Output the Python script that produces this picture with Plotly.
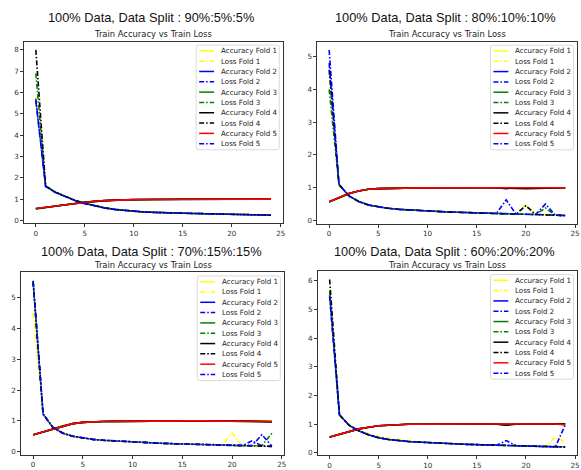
import plotly.graph_objects as go

W, H = 581, 470

epochs = list(range(25))

# ---------------- Panel 1 : 90%:5%:5% ----------------
acc90_f1 = [0.55,0.62,0.69,0.75,0.80,0.86,0.90,0.93,0.955,0.97,0.98,0.985,0.99,0.99,0.993,0.995,0.996,0.997,0.997,0.998,0.998,0.999,0.999,1.0,1.0]
acc90_f2 = [0.56,0.62,0.69,0.75,0.81,0.86,0.90,0.93,0.955,0.97,0.98,0.985,0.99,0.99,0.993,0.995,0.996,0.997,0.997,0.998,0.998,0.999,0.999,1.0,1.0]
acc90_f3 = [0.54,0.61,0.68,0.75,0.80,0.85,0.90,0.93,0.955,0.97,0.98,0.985,0.99,0.99,0.993,0.995,0.996,0.997,0.997,0.998,0.998,0.999,0.999,1.0,1.0]
acc90_f4 = [0.55,0.62,0.69,0.75,0.80,0.86,0.90,0.93,0.955,0.97,0.98,0.985,0.99,0.99,0.993,0.995,0.996,0.997,0.997,0.998,0.998,0.999,0.999,1.0,1.0]
acc90_f5 = [0.56,0.62,0.69,0.75,0.80,0.86,0.90,0.93,0.955,0.97,0.98,0.985,0.99,0.99,0.993,0.995,0.996,0.997,0.997,0.998,0.998,0.999,0.999,1.0,1.0]
loss90_f1 = [5.80,1.62,1.33,1.12,0.95,0.80,0.68,0.59,0.52,0.47,0.43,0.40,0.38,0.36,0.35,0.34,0.33,0.32,0.31,0.30,0.29,0.28,0.27,0.26,0.25]
loss90_f2 = [5.70,1.59,1.32,1.12,0.94,0.80,0.68,0.59,0.52,0.47,0.43,0.40,0.38,0.36,0.35,0.34,0.33,0.32,0.31,0.30,0.29,0.28,0.27,0.26,0.25]
loss90_f3 = [6.90,1.63,1.33,1.13,0.95,0.81,0.69,0.60,0.53,0.47,0.43,0.40,0.38,0.36,0.35,0.34,0.33,0.32,0.31,0.30,0.29,0.28,0.27,0.26,0.25]
loss90_f4 = [8.00,1.61,1.32,1.12,0.94,0.80,0.68,0.59,0.52,0.47,0.43,0.40,0.38,0.36,0.35,0.34,0.33,0.32,0.31,0.30,0.29,0.28,0.27,0.26,0.25]
loss90_f5 = [5.60,1.60,1.31,1.11,0.94,0.79,0.68,0.59,0.52,0.47,0.43,0.40,0.38,0.36,0.35,0.34,0.33,0.32,0.31,0.30,0.29,0.28,0.27,0.26,0.25]

# ---------------- Panel 2 : 80%:10%:10% ----------------
acc80_f1 = [0.57,0.70,0.82,0.90,0.95,0.97,0.98,0.99,0.99,0.995,0.995,1.0,1.0,1.0,1.0,1.0,1.0,1.0,1.0,1.0,0.98,1.0,1.0,1.0,1.0]
acc80_f2 = [0.57,0.70,0.82,0.90,0.95,0.97,0.98,0.99,0.99,0.995,0.995,1.0,1.0,1.0,1.0,1.0,1.0,1.0,0.97,1.0,1.0,1.0,1.0,1.0,1.0]
acc80_f3 = [0.56,0.69,0.81,0.90,0.95,0.97,0.98,0.99,0.99,0.995,0.995,1.0,1.0,1.0,1.0,1.0,1.0,1.0,1.0,1.0,1.0,1.0,0.98,1.0,1.0]
acc80_f4 = [0.57,0.70,0.82,0.90,0.95,0.97,0.98,0.99,0.99,0.995,0.995,1.0,1.0,1.0,1.0,1.0,1.0,0.99,0.98,0.98,0.97,0.98,0.98,0.99,1.0]
acc80_f5 = [0.57,0.70,0.82,0.90,0.95,0.97,0.98,0.99,0.99,0.995,0.995,1.0,1.0,1.0,1.0,1.0,1.0,1.0,1.0,1.0,1.0,1.0,0.98,1.0,1.0]
loss80_f1 = [4.50,1.10,0.75,0.58,0.47,0.41,0.37,0.34,0.32,0.30,0.28,0.27,0.26,0.25,0.24,0.23,0.22,0.21,0.20,0.19,0.48,0.18,0.17,0.16,0.15]
loss80_f2 = [5.20,1.10,0.75,0.58,0.47,0.41,0.37,0.34,0.32,0.30,0.28,0.27,0.26,0.25,0.24,0.23,0.22,0.21,0.63,0.19,0.19,0.18,0.17,0.16,0.15]
loss80_f3 = [4.00,1.09,0.75,0.58,0.47,0.41,0.37,0.34,0.32,0.30,0.28,0.27,0.26,0.25,0.24,0.23,0.22,0.21,0.20,0.19,0.19,0.18,0.38,0.16,0.15]
loss80_f4 = [4.60,1.10,0.76,0.58,0.47,0.41,0.37,0.34,0.32,0.30,0.28,0.27,0.26,0.25,0.24,0.23,0.22,0.21,0.20,0.19,0.45,0.18,0.17,0.16,0.15]
loss80_f5 = [4.80,1.10,0.75,0.58,0.47,0.41,0.37,0.34,0.32,0.30,0.28,0.27,0.26,0.25,0.24,0.23,0.22,0.21,0.20,0.19,0.19,0.18,0.50,0.16,0.15]

# ---------------- Panel 3 : 70%:15%:15% ----------------
acc70_f1 = [0.55,0.64,0.74,0.84,0.91,0.95,0.97,0.98,0.985,0.99,0.99,0.995,0.995,1.0,1.0,1.0,1.0,1.0,1.0,1.0,0.98,1.0,1.0,1.0,1.0]
acc70_f2 = [0.55,0.64,0.74,0.84,0.91,0.95,0.97,0.98,0.985,0.99,0.99,0.995,0.995,1.0,1.0,1.0,1.0,1.0,1.0,1.0,1.0,1.0,0.99,0.97,0.96]
acc70_f3 = [0.54,0.63,0.74,0.84,0.91,0.95,0.97,0.98,0.985,0.99,0.99,0.995,0.995,1.0,1.0,1.0,1.0,1.0,1.0,1.0,1.0,1.0,1.0,1.0,0.98]
acc70_f4 = [0.55,0.64,0.74,0.84,0.91,0.95,0.97,0.98,0.985,0.99,0.99,0.995,0.995,1.0,1.0,1.0,1.0,1.0,1.0,1.0,1.0,1.0,1.0,0.99,0.98]
acc70_f5 = [0.55,0.64,0.74,0.84,0.91,0.95,0.97,0.98,0.985,0.99,0.99,0.995,0.995,1.0,1.0,1.0,1.0,1.0,1.0,1.0,1.0,1.0,1.0,0.98,0.97]
loss70_f1 = [4.50,1.22,0.78,0.60,0.50,0.44,0.40,0.37,0.35,0.33,0.31,0.29,0.28,0.27,0.26,0.25,0.24,0.23,0.22,0.21,0.60,0.19,0.19,0.18,0.17]
loss70_f2 = [5.50,1.22,0.78,0.60,0.50,0.44,0.40,0.37,0.35,0.33,0.31,0.29,0.28,0.27,0.26,0.25,0.24,0.23,0.22,0.21,0.20,0.19,0.35,0.19,0.17]
loss70_f3 = [5.50,1.21,0.78,0.60,0.50,0.44,0.40,0.37,0.35,0.33,0.31,0.29,0.28,0.27,0.26,0.25,0.24,0.23,0.22,0.21,0.20,0.19,0.19,0.20,0.60]
loss70_f4 = [5.55,1.22,0.78,0.60,0.50,0.44,0.40,0.37,0.35,0.33,0.31,0.29,0.28,0.27,0.26,0.25,0.24,0.23,0.22,0.21,0.20,0.19,0.19,0.18,0.17]
loss70_f5 = [5.52,1.22,0.79,0.60,0.50,0.44,0.40,0.37,0.35,0.33,0.31,0.29,0.28,0.27,0.26,0.25,0.24,0.23,0.22,0.21,0.20,0.19,0.20,0.55,0.18]

# ---------------- Panel 4 : 60%:20%:20% ----------------
acc60_f1 = [0.55,0.65,0.74,0.83,0.89,0.94,0.96,0.98,0.99,0.99,0.995,1.0,1.0,1.0,1.0,1.0,1.0,1.0,1.0,1.0,1.0,1.0,1.0,0.98,0.99]
acc60_f2 = [0.55,0.65,0.74,0.83,0.89,0.94,0.96,0.98,0.99,0.99,0.995,1.0,1.0,1.0,1.0,1.0,1.0,1.0,0.97,1.0,1.0,1.0,1.0,1.0,1.0]
acc60_f3 = [0.54,0.64,0.74,0.83,0.89,0.94,0.96,0.98,0.99,0.99,0.995,1.0,1.0,1.0,1.0,1.0,1.0,1.0,1.0,1.0,1.0,1.0,1.0,1.0,1.0]
acc60_f4 = [0.55,0.65,0.74,0.83,0.89,0.94,0.96,0.98,0.99,0.99,0.995,1.0,1.0,1.0,1.0,1.0,1.0,0.99,0.96,0.99,1.0,1.0,1.0,1.0,1.0]
acc60_f5 = [0.55,0.65,0.74,0.83,0.89,0.94,0.96,0.98,0.99,0.99,0.995,1.0,1.0,1.0,1.0,1.0,1.0,1.0,1.0,1.0,1.0,1.0,1.0,1.0,0.97]
loss60_f1 = [5.70,1.33,0.99,0.80,0.66,0.56,0.50,0.45,0.42,0.38,0.35,0.33,0.31,0.30,0.29,0.28,0.27,0.26,0.25,0.24,0.23,0.22,0.21,0.55,0.35]
loss60_f2 = [5.50,1.32,0.95,0.76,0.62,0.52,0.46,0.42,0.39,0.37,0.35,0.33,0.31,0.30,0.29,0.28,0.27,0.26,0.42,0.24,0.23,0.22,0.21,0.21,0.20]
loss60_f3 = [5.65,1.31,0.95,0.76,0.62,0.52,0.46,0.42,0.39,0.37,0.35,0.33,0.31,0.30,0.29,0.28,0.27,0.26,0.25,0.24,0.23,0.22,0.21,0.21,0.20]
loss60_f4 = [6.05,1.32,0.95,0.76,0.62,0.52,0.46,0.42,0.39,0.37,0.35,0.33,0.31,0.30,0.29,0.28,0.27,0.26,0.27,0.24,0.23,0.22,0.21,0.21,0.20]
loss60_f5 = [5.45,1.32,0.95,0.76,0.62,0.52,0.46,0.42,0.39,0.37,0.35,0.33,0.31,0.30,0.29,0.28,0.27,0.26,0.25,0.24,0.23,0.22,0.21,0.20,0.97]

titles = ["100% Data, Data Split : 90%:5%:5%", "100% Data, Data Split : 80%:10%:10%",
          "100% Data, Data Split : 70%:15%:15%", "100% Data, Data Split : 60%:20%:20%"]
subtitle = "Train Accuracy vs Train Loss"
fold_names = ["Fold 1", "Fold 2", "Fold 3", "Fold 4", "Fold 5"]
acc_colors = ["#FFFF00", "#0000FF", "#008000", "#000000", "#FF0000"]
loss_colors = ["#FFFF00", "#0000FF", "#008000", "#000000", "#0000FF"]

panels = [
    ([acc90_f1, acc90_f2, acc90_f3, acc90_f4, acc90_f5], [loss90_f1, loss90_f2, loss90_f3, loss90_f4, loss90_f5]),
    ([acc80_f1, acc80_f2, acc80_f3, acc80_f4, acc80_f5], [loss80_f1, loss80_f2, loss80_f3, loss80_f4, loss80_f5]),
    ([acc70_f1, acc70_f2, acc70_f3, acc70_f4, acc70_f5], [loss70_f1, loss70_f2, loss70_f3, loss70_f4, loss70_f5]),
    ([acc60_f1, acc60_f2, acc60_f3, acc60_f4, acc60_f5], [loss60_f1, loss60_f2, loss60_f3, loss60_f4, loss60_f5]),
]

# layout geometry in pixels: (x0, x1, ytop, ybottom)
boxes = [(24.2, 284.2, 42.2, 226.3), (319.0, 580.0, 42.3, 226.7),
         (21.3, 285.3, 276.0, 460.6), (319.5, 580.0, 274.6, 461.2)]
title_x = [152, 448, 152, 447]
title_y = [18, 18, 255, 255]
sub_y = [34, 34, 268.5, 268.5]

DASHDOT = "5px,2px,1.5px,2px"
LW = 1.6

def px(x):
    return x / W

def py(y):
    return 1 - y / H

fig = go.Figure()
shapes = []
annotations = []
layout_axes = {}

for i, (accs, losses) in enumerate(panels):
    n = "" if i == 0 else str(i + 1)
    xa, ya = "x" + n, "y" + n
    for k in range(5):
        fig.add_trace(go.Scatter(x=epochs, y=accs[k], mode="lines", xaxis=xa, yaxis=ya,
                                 line=dict(color=acc_colors[k], width=LW), showlegend=False,
                                 name="Accuracy " + fold_names[k]))
        fig.add_trace(go.Scatter(x=epochs, y=losses[k], mode="lines", xaxis=xa, yaxis=ya,
                                 line=dict(color=loss_colors[k], width=LW, dash=DASHDOT), showlegend=False,
                                 name="Loss " + fold_names[k]))
    allv = [v for s in accs + losses for v in s]
    lo, hi = min(allv), max(allv)
    pad = 0.05 * (hi - lo)
    x0, x1, yt, yb = boxes[i]
    axcommon = dict(showline=True, mirror=True, linecolor="#333", linewidth=0.8,
                    ticks="outside", ticklen=3, tickcolor="#333", tickwidth=0.8,
                    showgrid=False, zeroline=False,
                    tickfont=dict(family="DejaVu Sans", size=7.2, color="#333"))
    layout_axes["xaxis" + n] = dict(axcommon, domain=[px(x0), px(x1)], anchor=ya,
                                    range=[-1.2, 25.2], tickvals=[0, 5, 10, 15, 20, 25])
    layout_axes["yaxis" + n] = dict(axcommon, domain=[py(yb), py(yt)], anchor=xa,
                                    range=[lo - pad, hi + pad], dtick=1, tick0=0)

    # titles
    annotations.append(dict(text=titles[i], x=px(title_x[i]), y=py(title_y[i]), xref="paper", yref="paper",
                            showarrow=False, xanchor="center", yanchor="middle",
                            font=dict(family="Liberation Sans, Arial", size=12.8, color="#111")))
    annotations.append(dict(text=subtitle, x=px((x0 + x1) / 2), y=py(sub_y[i]), xref="paper", yref="paper",
                            showarrow=False, xanchor="center", yanchor="middle",
                            font=dict(family="DejaVu Sans", size=8.4, color="#222")))

    # legend box (upper right)
    lw_, lh_ = 83.5, 106.0
    lr = x1 - 3.5
    ll = lr - lw_
    lt = yt + 3.5
    lbm = lt + lh_
    r = 2.5
    path = (f"M {px(ll+r)} {py(lt)} L {px(lr-r)} {py(lt)} Q {px(lr)} {py(lt)} {px(lr)} {py(lt+r)} "
            f"L {px(lr)} {py(lbm-r)} Q {px(lr)} {py(lbm)} {px(lr-r)} {py(lbm)} "
            f"L {px(ll+r)} {py(lbm)} Q {px(ll)} {py(lbm)} {px(ll)} {py(lbm-r)} "
            f"L {px(ll)} {py(lt+r)} Q {px(ll)} {py(lt)} {px(ll+r)} {py(lt)} Z")
    shapes.append(dict(type="path", path=path, xref="paper", yref="paper",
                       fillcolor="rgba(255,255,255,0.85)", line=dict(color="#d0d0d0", width=0.8), layer="above"))
    labels, colors, dashes = [], [], []
    for k in range(5):
        labels += ["Accuracy " + fold_names[k], "Loss " + fold_names[k]]
        colors += [acc_colors[k], loss_colors[k]]
        dashes += ["solid", DASHDOT]
    for j in range(10):
        yc = lt + 5.8 + j * 10.45
        shapes.append(dict(type="line", xref="paper", yref="paper",
                           x0=px(ll + 3), x1=px(ll + 18), y0=py(yc), y1=py(yc),
                           line=dict(color=colors[j], width=1.5, dash=dashes[j]), layer="above"))
        annotations.append(dict(text=labels[j], x=px(ll + 23), y=py(yc), xref="paper", yref="paper",
                                showarrow=False, xanchor="left", yanchor="middle",
                                font=dict(family="DejaVu Sans", size=7.1, color="#222")))

fig.update_layout(width=W, height=H, margin=dict(l=0, r=0, t=0, b=0),
                  paper_bgcolor="white", plot_bgcolor="white",
                  shapes=shapes, annotations=annotations, showlegend=False, **layout_axes)

fig.write_html("out.html", config={"displayModeBar": False})

# remove the default page margin so the 581x470 figure fills the window exactly
with open("out.html", "r", encoding="utf-8") as f:
    html = f.read()
html = html.replace("<head>", "<head><style>html,body{margin:0;padding:0;overflow:hidden;}</style>", 1)
with open("out.html", "w", encoding="utf-8") as f:
    f.write(html)
